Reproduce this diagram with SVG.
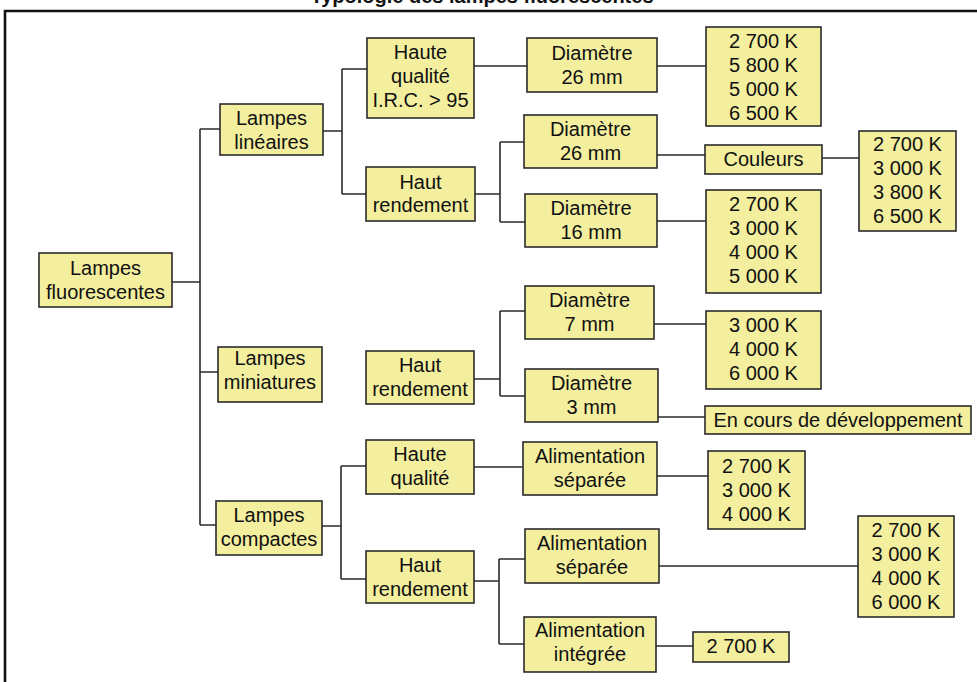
<svg xmlns="http://www.w3.org/2000/svg" width="977" height="682" viewBox="0 0 977 682">
<style>
.n rect{fill:#f3ef9f;stroke:#2b2b2b;stroke-width:1.6}
.n text{font-family:"Liberation Sans",Arial,sans-serif;font-size:20px;fill:#111;text-anchor:middle}
.c path{fill:none;stroke:#2b2b2b;stroke-width:1.6}
.frame{fill:none;stroke:#111;stroke-width:2.6}
.title{font-family:"Liberation Sans",Arial,sans-serif;font-size:20px;font-weight:bold;fill:#111;text-anchor:middle}
</style>
<rect width="977" height="682" fill="#ffffff"/>
<text class="title" x="482" y="3">Typologie des lampes fluorescentes</text>
<path class="frame" d="M5,682 V11 H977"/>
<g class="c" id="connectors">
<path d="M172,282 H200 M200,129 V525 M200,129 H220 M200,372 H218 M200,525 H216"/>
<path d="M323,131 H342 M342,69 V194 M342,69 H367 M342,194 H366"/>
<path d="M474,66 H527 M657,66 H706"/>
<path d="M475,194 H500 M500,142 V222 M500,142 H524 M500,222 H525"/>
<path d="M657,155 H705 M822,158 H859 M657,221 H706"/>
<path d="M474,379 H500 M500,311 V396 M500,311 H525 M500,396 H525"/>
<path d="M654,324 H706 M658,417 H705"/>
<path d="M322,526 H341 M341,466 V579 M341,466 H366 M341,579 H366"/>
<path d="M474,467 H523 M657,476 H708"/>
<path d="M474,581 H499 M499,559 V644 M499,559 H525 M499,644 H524"/>
<path d="M659,566 H858 M656,646 H693"/>
</g>
<g class="n" id="root"><rect x="39" y="253" width="133" height="54"/><text x="105.5" y="275">Lampes</text><text x="105.5" y="299">fluorescentes</text></g>
<g class="n" id="lineaires"><rect x="220" y="104" width="103" height="51"/><text x="271.5" y="124.5">Lampes</text><text x="271.5" y="148.5">linéaires</text></g>
<g class="n" id="hq-lin"><rect x="367" y="38" width="107" height="80"/><text x="420.5" y="58.5">Haute</text><text x="420.5" y="82.5">qualité</text><text x="420.5" y="106.5">I.R.C. &gt; 95</text></g>
<g class="n" id="hr-lin"><rect x="366" y="167" width="109" height="54"/><text x="420.5" y="188.5">Haut</text><text x="420.5" y="212">rendement</text></g>
<g class="n" id="d26a"><rect x="527" y="38" width="130" height="54"/><text x="592" y="59.5">Diamètre</text><text x="592" y="83.5">26 mm</text></g>
<g class="n" id="k1"><rect x="706" y="27" width="115" height="99"/><text x="763.5" y="47.5">2 700 K</text><text x="763.5" y="71.5">5 800 K</text><text x="763.5" y="95.5">5 000 K</text><text x="763.5" y="119.5">6 500 K</text></g>
<g class="n" id="d26b"><rect x="524" y="115" width="133" height="53"/><text x="590.5" y="135.5">Diamètre</text><text x="590.5" y="159.5">26 mm</text></g>
<g class="n" id="couleurs"><rect x="705" y="145" width="117" height="29"/><text x="763.5" y="166">Couleurs</text></g>
<g class="n" id="k2"><rect x="859" y="131" width="97" height="100"/><text x="907.5" y="151">2 700 K</text><text x="907.5" y="175">3 000 K</text><text x="907.5" y="199">3 800 K</text><text x="907.5" y="223">6 500 K</text></g>
<g class="n" id="d16"><rect x="525" y="194" width="132" height="53"/><text x="591" y="214.5">Diamètre</text><text x="591" y="238.5">16 mm</text></g>
<g class="n" id="k3"><rect x="706" y="190" width="115" height="103"/><text x="763.5" y="210.5">2 700 K</text><text x="763.5" y="234.5">3 000 K</text><text x="763.5" y="258.5">4 000 K</text><text x="763.5" y="282.5">5 000 K</text></g>
<g class="n" id="miniatures"><rect x="218" y="347" width="104" height="55"/><text x="270" y="365">Lampes</text><text x="270" y="389">miniatures</text></g>
<g class="n" id="hr-mini"><rect x="366" y="351" width="108" height="53"/><text x="420" y="372">Haut</text><text x="420" y="396">rendement</text></g>
<g class="n" id="d7"><rect x="525" y="286" width="129" height="53"/><text x="589.5" y="307">Diamètre</text><text x="589.5" y="331">7 mm</text></g>
<g class="n" id="k4"><rect x="706" y="311" width="115" height="78"/><text x="763.5" y="332">3 000 K</text><text x="763.5" y="356">4 000 K</text><text x="763.5" y="380">6 000 K</text></g>
<g class="n" id="d3"><rect x="525" y="369" width="133" height="53"/><text x="591.5" y="390">Diamètre</text><text x="591.5" y="414">3 mm</text></g>
<g class="n" id="dev"><rect x="705" y="406" width="266" height="28"/><text x="838" y="427">En cours de développement</text></g>
<g class="n" id="compactes"><rect x="216" y="501" width="106" height="54"/><text x="269" y="522">Lampes</text><text x="269" y="546">compactes</text></g>
<g class="n" id="hq-comp"><rect x="366" y="440" width="108" height="54"/><text x="420" y="461">Haute</text><text x="420" y="485">qualité</text></g>
<g class="n" id="hr-comp"><rect x="366" y="551" width="108" height="52"/><text x="420" y="572">Haut</text><text x="420" y="596">rendement</text></g>
<g class="n" id="as1"><rect x="523" y="442" width="134" height="53"/><text x="590" y="463">Alimentation</text><text x="590" y="487">séparée</text></g>
<g class="n" id="k5"><rect x="708" y="451" width="97" height="78"/><text x="756.5" y="473">2 700 K</text><text x="756.5" y="497">3 000 K</text><text x="756.5" y="521">4 000 K</text></g>
<g class="n" id="as2"><rect x="525" y="529" width="134" height="54"/><text x="592" y="550">Alimentation</text><text x="592" y="574">séparée</text></g>
<g class="n" id="k6"><rect x="858" y="516" width="96" height="101"/><text x="906" y="537">2 700 K</text><text x="906" y="561">3 000 K</text><text x="906" y="585">4 000 K</text><text x="906" y="609">6 000 K</text></g>
<g class="n" id="ai"><rect x="524" y="617" width="132" height="55"/><text x="590" y="637">Alimentation</text><text x="590" y="661">intégrée</text></g>
<g class="n" id="k7"><rect x="693" y="632" width="96" height="30"/><text x="741" y="653">2 700 K</text></g>
</svg>
